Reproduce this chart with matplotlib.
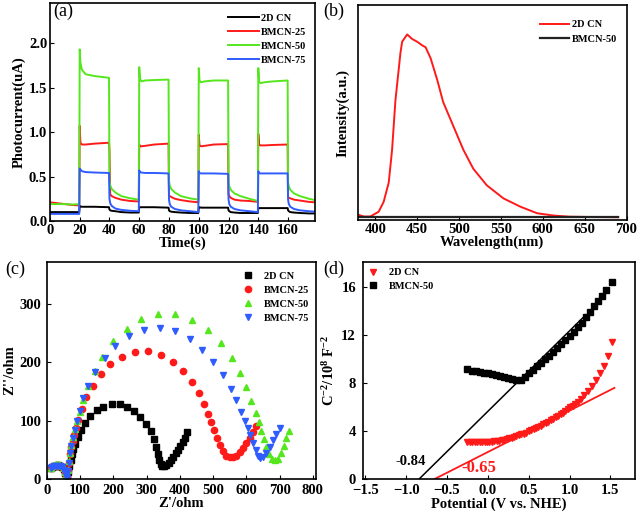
import numpy as np
import matplotlib.pyplot as plt

plt.rcParams['font.family'] = ['Liberation Serif', 'DejaVu Serif']
plt.rcParams['font.weight'] = 'bold'
plt.rcParams['axes.labelweight'] = 'bold'
plt.rcParams['mathtext.fontset'] = 'custom'
plt.rcParams['mathtext.rm'] = 'Liberation Serif:bold'
plt.rcParams['mathtext.it'] = 'Liberation Serif:italic:bold'
plt.rcParams['mathtext.bf'] = 'Liberation Serif:bold'
plt.rcParams['xtick.direction'] = 'in'
plt.rcParams['ytick.direction'] = 'in'
plt.rcParams['axes.linewidth'] = 1.2

# ---- (a) transient photocurrent ----
time_s = [0, 5, 10, 15, 19.7,
          20, 20.5, 21.5, 24, 30, 39.7,
          40, 40.5, 41.5, 44, 48, 54, 59.7,
          60, 60.5, 61.5, 64, 70, 79.7,
          80, 80.5, 81.5, 84, 88, 94, 99.7,
          100, 100.5, 101.5, 104, 110, 119.7,
          120, 120.5, 121.5, 124, 128, 134, 139.7,
          140, 140.5, 141.5, 144, 150, 159.7,
          160, 160.5, 161.5, 164, 168, 174, 178]
pc_cn = [0.10, 0.10, 0.10, 0.10, 0.10,
         0.17, 0.165, 0.16, 0.16, 0.16, 0.155,
         0.13, 0.12, 0.115, 0.11, 0.10, 0.095, 0.095,
         0.155, 0.155, 0.155, 0.155, 0.155, 0.15,
         0.12, 0.11, 0.105, 0.10, 0.095, 0.09, 0.09,
         0.155, 0.155, 0.15, 0.15, 0.15, 0.15,
         0.12, 0.11, 0.10, 0.095, 0.09, 0.09, 0.09,
         0.145, 0.145, 0.145, 0.145, 0.145, 0.145,
         0.12, 0.11, 0.10, 0.095, 0.09, 0.085, 0.085]
pc_25 = [0.21, 0.20, 0.19, 0.18, 0.175,
         1.07, 0.88, 0.86, 0.86, 0.87, 0.88,
         0.80, 0.30, 0.28, 0.26, 0.24, 0.225, 0.22,
         0.86, 0.84, 0.84, 0.845, 0.86, 0.87,
         0.29, 0.28, 0.27, 0.25, 0.235, 0.22, 0.21,
         0.97, 0.85, 0.84, 0.845, 0.86, 0.865,
         0.30, 0.28, 0.26, 0.24, 0.23, 0.225, 0.215,
         0.98, 0.86, 0.85, 0.85, 0.855, 0.86,
         0.27, 0.26, 0.255, 0.24, 0.23, 0.215, 0.21]
pc_50 = [0.19, 0.19, 0.19, 0.185, 0.19,
         1.93, 1.78, 1.70, 1.65, 1.63, 1.61,
         0.45, 0.40, 0.36, 0.32, 0.28, 0.255, 0.24,
         1.73, 1.60, 1.57, 1.58, 1.585, 1.59,
         0.45, 0.40, 0.36, 0.32, 0.28, 0.255, 0.24,
         1.72, 1.58, 1.56, 1.57, 1.58, 1.58,
         0.44, 0.39, 0.35, 0.31, 0.28, 0.25, 0.225,
         1.72, 1.57, 1.55, 1.56, 1.57, 1.58,
         0.44, 0.39, 0.35, 0.31, 0.28, 0.25, 0.235]
pc_75 = [0.08, 0.08, 0.08, 0.08, 0.08,
         0.59, 0.58, 0.56, 0.55, 0.545, 0.54,
         0.25, 0.20, 0.17, 0.14, 0.125, 0.115, 0.11,
         0.57, 0.55, 0.545, 0.54, 0.54, 0.535,
         0.24, 0.19, 0.16, 0.135, 0.12, 0.11, 0.10,
         0.56, 0.54, 0.535, 0.535, 0.535, 0.53,
         0.24, 0.19, 0.16, 0.135, 0.12, 0.11, 0.10,
         0.56, 0.54, 0.535, 0.535, 0.535, 0.535,
         0.24, 0.19, 0.16, 0.135, 0.12, 0.11, 0.105]

# ---- (b) PL spectra ----
pl_wl = [380, 386, 394, 404, 410, 416, 420, 424, 430, 432, 438, 444, 450,
         456, 460, 466, 474, 481, 493, 505, 517, 533, 553, 573, 593, 613,
         632, 660, 690]
pl_cn = [0.013, 0.004, 0.004, 0.03, 0.085, 0.19, 0.37, 0.64, 0.90, 0.96,
         1.0, 0.975, 0.96, 0.94, 0.93, 0.87, 0.75, 0.63, 0.50, 0.37, 0.265,
         0.175, 0.103, 0.058, 0.022, 0.009, 0.003, 0.001, 0.0]
pl_wl_50 = [380, 450, 550, 650, 690]
pl_50 = [0.0, 0.0, 0.0, 0.0, 0.0]

# ---- (c) Nyquist plots ----
z_re_cn = [12, 17, 22, 28, 34, 40, 46, 51, 55, 58, 60, 64, 68, 72, 76, 80,
           85, 93, 102, 115, 130, 150, 170, 195, 220, 242, 262, 280, 297,
           312, 323, 330, 335, 339, 343, 348, 354, 360, 367, 374, 381, 388,
           395, 402, 409, 416, 423]
z_im_cn = [19, 21, 22, 23, 24, 23, 21, 17, 11, 6, 3, 12, 22, 32, 42, 52,
           60, 72, 84, 96, 108, 118, 124, 128, 128, 124, 116, 106, 95, 82,
           68, 55, 42, 32, 25, 22, 22, 24, 28, 33, 38, 44, 50, 57, 64, 71, 80]
z_re_25 = [12, 17, 22, 28, 34, 40, 46, 51, 55, 58, 60, 63, 66, 70, 73, 78,
           83, 88, 95, 105, 118, 138, 162, 190, 225, 265, 305, 345, 380, 410,
           437, 458, 472, 485, 495, 503, 512, 520, 530, 540, 550, 560, 570,
           580, 590, 600, 610, 620, 628]
z_im_25 = [19, 21, 22, 23, 24, 23, 21, 17, 11, 6, 3, 15, 28, 42, 55, 65,
           75, 88, 101, 120, 140, 160, 180, 197, 210, 218, 219, 213, 201, 185,
           166, 147, 129, 112, 97, 84, 70, 58, 48, 40, 37, 37, 40, 46, 53, 61,
           70, 80, 90]
z_re_50 = [12, 17, 22, 28, 34, 40, 46, 51, 55, 58, 60, 63, 66, 70, 74, 78,
           84, 92, 100, 110, 125, 145, 165, 200, 240, 283, 335, 385, 437, 485,
           525, 557, 582, 600, 615, 628, 637, 645, 652, 660, 668, 676, 685,
           694, 703, 712, 720, 728]
z_im_50 = [19, 22, 24, 25, 25, 24, 22, 18, 12, 6, 3, 15, 30, 45, 58, 72,
           85, 100, 115, 135, 160, 185, 210, 236, 258, 275, 283, 283, 273, 255,
           233, 207, 182, 157, 133, 113, 97, 83, 68, 55, 42, 35, 33, 35, 45,
           57, 70, 82]
z_re_75 = [12, 17, 22, 28, 34, 40, 46, 51, 55, 58, 60, 63, 66, 70, 74, 78,
           84, 92, 100, 110, 125, 145, 175, 205, 248, 292, 340, 385, 430, 468,
           500, 530, 555, 570, 585, 595, 605, 612, 620, 628, 635, 642, 650,
           660, 670, 680, 690, 700]
z_im_75 = [19, 21, 22, 23, 23, 22, 20, 16, 10, 5, 2, 14, 28, 44, 57, 70,
           84, 100, 117, 138, 160, 184, 207, 228, 246, 256, 259, 253, 240, 222,
           200, 178, 155, 135, 115, 100, 87, 75, 62, 50, 40, 36, 38, 45, 55,
           66, 77, 88]

# ---- (d) Mott-Schottky ----
ms_v_cn = [-0.25, -0.22, -0.19, -0.16, -0.13, -0.10, -0.07, -0.04, -0.01,
           0.02, 0.05, 0.08, 0.11, 0.14, 0.17, 0.20, 0.23, 0.26, 0.29, 0.32,
           0.35, 0.38, 0.41, 0.44, 0.47, 0.50, 0.53, 0.56, 0.59, 0.62, 0.65,
           0.68, 0.71, 0.74, 0.77, 0.80, 0.83, 0.86, 0.89, 0.92, 0.95, 0.98,
           1.01, 1.04, 1.07, 1.10, 1.14, 1.18, 1.22, 1.27, 1.32, 1.37, 1.42,
           1.47, 1.52]
ms_cn = [3.10, 3.08, 3.07, 3.06, 3.06, 3.06, 3.06, 3.07, 3.08, 3.10, 3.12,
         3.14, 3.17, 3.20, 3.24, 3.28, 3.33, 3.38, 3.44, 3.50, 3.57, 3.64,
         3.71, 3.79, 3.87, 3.96, 4.05, 4.14, 4.24, 4.34, 4.45, 4.56, 4.67,
         4.79, 4.91, 5.03, 5.15, 5.28, 5.41, 5.54, 5.68, 5.82, 5.97, 6.12,
         6.28, 6.45, 6.70, 7.00, 7.35, 7.75, 8.25, 8.80, 9.45, 10.25, 11.40]
ms_v_50 = [-0.25, -0.20, -0.15, -0.10, -0.05, 0.00, 0.05, 0.10, 0.15, 0.20,
           0.25, 0.30, 0.35, 0.40, 0.45, 0.50, 0.55, 0.60, 0.65, 0.70, 0.75,
           0.80, 0.85, 0.90, 0.95, 1.00, 1.05, 1.10, 1.15, 1.20, 1.25, 1.30,
           1.35, 1.40, 1.45, 1.52]
ms_50 = [9.15, 9.05, 8.98, 8.92, 8.86, 8.80, 8.75, 8.70, 8.62, 8.52, 8.40,
         8.30, 8.22, 8.25, 8.50, 8.80, 9.10, 9.40, 9.70, 10.00, 10.30, 10.60,
         10.92, 11.24, 11.58, 11.92, 12.28, 12.65, 13.05, 13.50, 13.95, 14.40,
         14.85, 15.30, 15.75, 16.40]
fit_v_cn = [-0.65, 1.55]
fit_cn = [0.0, 7.6]
fit_v_50 = [-0.84, 1.20]
fit_50 = [0.0, 13.7]

green = '#55e61e'
blue = '#2f5cff'
red = '#ff1a1a'

fig = plt.figure(figsize=(6.4, 5.2), dpi=100)
tick_fs = 10.5
lab_fs = 10.5
leg_fs = 7.5

# (a)
ax = fig.add_axes([0.078, 0.575, 0.414, 0.419])
ax.plot(time_s, pc_cn, color='black', lw=1.4, label='2D CN')
ax.plot(time_s, pc_25, color=red, lw=1.4, label='BMCN-25')
ax.plot(time_s, pc_50, color=green, lw=1.4, label='BMCN-50')
ax.plot(time_s, pc_75, color=blue, lw=1.4, label='BMCN-75')
ax.set_xlim(0, 178)
ax.set_ylim(0, 2.45)
ax.set_xticks(range(0, 161, 20))
ax.set_yticks([0.0, 0.5, 1.0, 1.5, 2.0])
ax.set_yticklabels(['0.0', '0.5', '1.0', '1.5', '2.0'])
ax.set_xlabel('Time(s)', fontsize=lab_fs, labelpad=0)
ax.set_ylabel('Photocurrent(uA)', fontsize=lab_fs, labelpad=2)
ax.tick_params(labelsize=tick_fs, length=3, pad=2)
ax.legend(loc='upper right', frameon=False, fontsize=leg_fs, handlelength=3.0,
          handletextpad=0.2, labelspacing=0.45, borderaxespad=0.3,
          bbox_to_anchor=(0.995, 0.985))

# (b)
ax = fig.add_axes([0.559, 0.577, 0.420, 0.413])
ax.plot(pl_wl, pl_cn, color=red, lw=1.4, label='2D CN')
ax.plot(pl_wl_50, pl_50, color='#222222', lw=1.6, label='BMCN-50')
ax.set_xlim(379, 700)
ax.set_ylim(-0.015, 1.16)
ax.set_xticks(range(400, 701, 50))
ax.set_yticks([])
ax.set_xlabel('Wavelength(nm)', fontsize=lab_fs, labelpad=0)
ax.set_ylabel('Intensity(a.u.)', fontsize=lab_fs, labelpad=6)
ax.tick_params(labelsize=tick_fs, length=3, pad=2)
ax.legend(loc='upper right', frameon=False, fontsize=leg_fs, handlelength=2.8,
          handletextpad=0.3, labelspacing=0.5, bbox_to_anchor=(1.0, 0.975))

# (c)
ax = fig.add_axes([0.073, 0.079, 0.421, 0.417])
ax.plot(z_re_cn, z_im_cn, 's', color='black', ms=4, label='2D CN')
ax.plot(z_re_25, z_im_25, 'o', color=red, ms=4.5, label='BMCN-25')
ax.plot(z_re_50, z_im_50, '^', color=green, ms=5, label='BMCN-50')
ax.plot(z_re_75, z_im_75, 'v', color=blue, ms=5, label='BMCN-75')
ax.set_xlim(0, 810)
ax.set_ylim(0, 372)
ax.set_xticks(range(0, 801, 100))
ax.set_yticks([0, 100, 200, 300])
ax.set_xlabel("Z'/ohm", fontsize=lab_fs, labelpad=0)
ax.set_ylabel("Z''/ohm", fontsize=lab_fs, labelpad=2)
ax.tick_params(labelsize=tick_fs, length=3, pad=2)
ax.tick_params(axis='x', pad=4)
ax.tick_params(axis='y', pad=4)
ax.legend(loc='upper right', frameon=False, fontsize=leg_fs, handlelength=1.5,
          labelspacing=0.45, bbox_to_anchor=(1.01, 1.0))

# (d)
ax = fig.add_axes([0.567, 0.079, 0.425, 0.417])
ax.plot(ms_v_cn, ms_cn, 'v', color=red, ms=5, label='2D CN')
ax.plot(ms_v_50, ms_50, 's', color='black', ms=4.5, label='BMCN-50')
ax.plot(fit_v_cn, fit_cn, color=red, lw=1.3)
ax.plot(fit_v_50, fit_50, color='black', lw=1.1)
ax.text(-1.13, 1.2, '-0.84', fontsize=10.5, color='black')
ax.text(-0.32, 0.55, '-0.65', fontsize=12, color=red)
ax.set_xlim(-1.53, 1.8)
ax.set_ylim(0, 18.1)
ax.set_xticks([-1.5, -1.0, -0.5, 0.0, 0.5, 1.0, 1.5])
ax.set_yticks([0, 4, 8, 12, 16])
ax.set_xlabel('Potential (V vs. NHE)', fontsize=lab_fs, labelpad=0)
ax.set_ylabel('C$^{-2}$/10$^{8}$ F$^{-2}$', fontsize=lab_fs, labelpad=3)
ax.tick_params(labelsize=tick_fs, length=3, pad=2)
ax.tick_params(axis='x', pad=4)
ax.tick_params(axis='y', pad=5)
ax.legend(loc='upper left', frameon=False, fontsize=leg_fs, handlelength=1.2,
          handletextpad=0.9, labelspacing=0.4, bbox_to_anchor=(-0.02, 1.015))

for lbl, x, y in [('(a)', 0.083, 0.994), ('(b)', 0.505, 0.994),
                  ('(c)', 0.008, 0.498), ('(d)', 0.505, 0.498)]:
    fig.text(x, y, lbl, fontsize=13, fontweight='normal', va='top')

fig.savefig('out.png', dpi=100)
